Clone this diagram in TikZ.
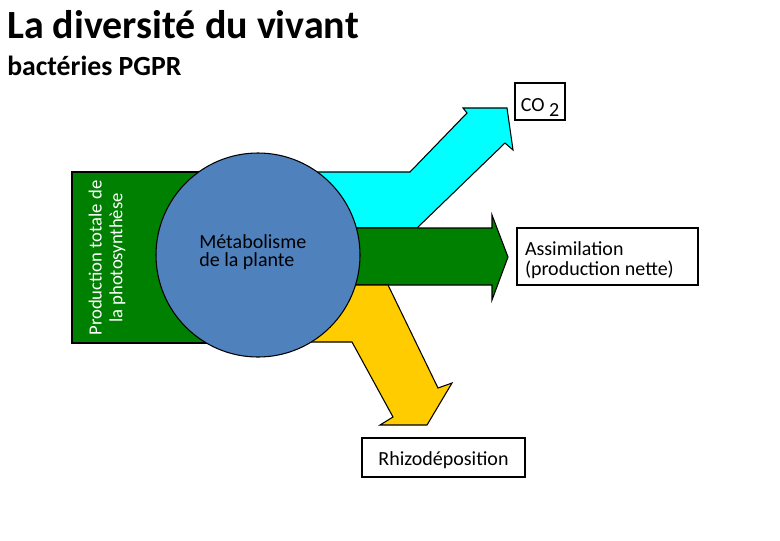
\documentclass[tikz,border=0pt]{standalone}
\usepackage{fontspec}
\setmainfont{Carlito}
\usepackage{xcolor}
\usepackage{tikz}
\usetikzlibrary{positioning}

\definecolor{leafgreen}{RGB}{0,128,0}
\definecolor{gascyan}{RGB}{0,255,255}
\definecolor{rootyellow}{RGB}{255,204,0}
\definecolor{plantblue}{RGB}{79,129,189}

\begin{document}
\begin{tikzpicture}[x=0.75pt, y=-0.75pt, font=\fontsize{15}{15}\selectfont]
    \tikzstyle{labelbox}=[rectangle, draw, line width=0.9pt, inner sep=0pt, align=left]
    \tikzstyle{flow}=[draw, line width=0.8pt, line join=miter]
    \useasboundingbox (0,0) rectangle (780,540);

    \node[anchor=base west, inner sep=0pt, font=\fontsize{30}{30}\selectfont\bfseries] (title) at (7,38) {La diversité du vivant};
    \node[anchor=base west, inner sep=0pt, font=\fontsize{20.8}{20.8}\selectfont\bfseries] (subtitle) at (7,75) {bactéries PGPR};

    % the three outgoing flows
    \path[flow, fill=gascyan] (258,172) -- (410,172) -- (467,113) -- (463,108) -- (507,108)
        -- (513,150) -- (505,143) -- (417,228) -- (258,228) -- cycle;
    \path[flow, fill=leafgreen] (258,228) -- (492,228) -- (492,215) -- (508,257)
        -- (492,300) -- (492,285) -- (258,285) -- cycle;
    \path[flow, fill=rootyellow] (258,285) -- (388,285) -- (438,388) -- (452,383) -- (427,425)
        -- (380,425) -- (393,417) -- (352,342) -- (258,342) -- cycle;

    % photosynthesis input and plant
    \path[flow, fill=leafgreen] (72,172) rectangle (258,343);
    \node[rotate=90, text=white, align=center, font=\fontsize{14}{15.5}\selectfont] (prod) at (107,258) {Production totale de\\la photosynthèse};
    \node[circle, draw, line width=0.8pt, fill=plantblue, minimum size=153pt, inner sep=0pt] (metab) at (258,255) {};
    \node[anchor=west, inner sep=0pt, align=left, font=\fontsize{15}{13.5}\selectfont] (metabtxt) at (199,252) {Métabolisme\\de la plante};

    \node[labelbox, align=center, minimum width=37.5pt, minimum height=27.75pt] (co2) at (540,101.5)
        {\raisebox{-4.5pt}[\height][\depth]{CO~\raisebox{-3.75pt}{2}}};
    \node[labelbox, inner xsep=6pt, minimum height=42.75pt] (assim) at (607.5,256.5)
        {\raisebox{-3.75pt}[\height][\depth]{\makebox[123.75pt][l]{\begin{tabular}{@{}l@{}}Assimilation\\(production nette)\end{tabular}}}};
    \node[labelbox, align=center, minimum width=122.25pt, minimum height=29.25pt] (rhizo) at (443.5,457.5)
        {\raisebox{-2.25pt}[\height][\depth]{Rhizodéposition}};
\end{tikzpicture}
\end{document}
